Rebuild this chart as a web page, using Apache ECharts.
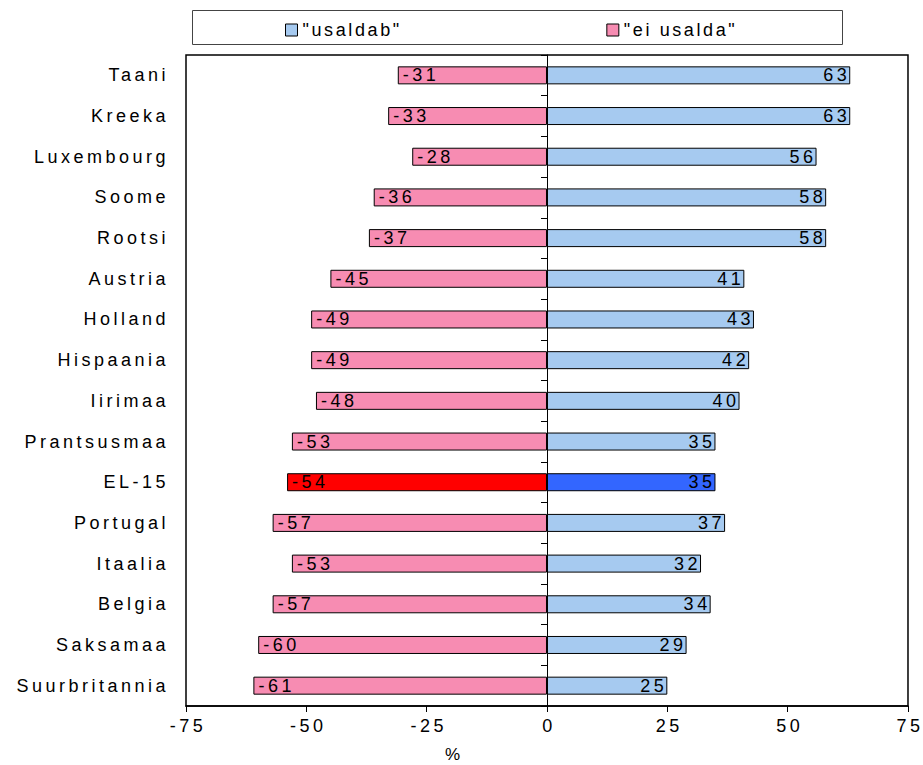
<!DOCTYPE html>
<html><head><meta charset="utf-8">
<script src="https://cdn.jsdelivr.net/npm/echarts@6/dist/echarts.min.js"></script>
<style>html,body{margin:0;padding:0;background:#fff}#c{width:923px;height:765px}
#c svg text{letter-spacing:3.5px}
#c svg text[style*="Liberation"],#c svg text[font-family*="Liberation"]{letter-spacing:2.6px}</style>
</head><body><div id="c"></div>
<script>
const categories = ['Taani','Kreeka','Luxembourg','Soome','Rootsi','Austria','Holland','Hispaania','Iirimaa','Prantsusmaa','EL-15','Portugal','Itaalia','Belgia','Saksamaa','Suurbritannia'];
const trust = [63,63,56,58,58,41,43,42,40,35,35,37,32,34,29,25];
const distrust = [-31,-33,-28,-36,-37,-45,-49,-49,-48,-53,-54,-57,-53,-57,-60,-61];
const seriesNames = ['"usaldab"','"ei usalda"'];
const xTicks = [-75,-50,-25,0,25,50,75];
const highlight = 'EL-15';

const FONT = 'Arial, sans-serif';
const LFONT = 'Liberation Sans';
const BLUE = '#A6CAF0', PINK = '#F78CB2', HBLUE = '#3366FF', HRED = '#FF0000';

function mk(vals, hl) {
  return vals.map((v, i) => categories[i] === highlight
    ? { value: v, itemStyle: { color: hl } } : v);
}

const chart = echarts.init(document.getElementById('c'), null, { renderer: 'svg' });
chart.setOption({
  animation: false,
  textStyle: { fontFamily: FONT },
  grid: { left: 186, right: 15, top: 55, bottom: 59, show: true, borderColor: '#000', borderWidth: 1.5 },
  legend: {
    left: 280, top: 16, itemGap: 228, itemWidth: 12, itemHeight: 12,
    textStyle: { fontFamily: LFONT, fontSize: 18, color: '#000' },
    data: [
      { name: seriesNames[0], icon: 'rect', itemStyle: { color: BLUE, borderColor: '#000', borderWidth: 1 } },
      { name: seriesNames[1], icon: 'rect', itemStyle: { color: PINK, borderColor: '#000', borderWidth: 1 } }
    ]
  },
  graphic: [
    { type: 'rect', left: 190, top: 8, shape: { width: 650, height: 34 }, style: { fill: 'none', stroke: '#444', lineWidth: 1 }, z: 0 },
    { type: 'text', left: 445, top: 746, style: { text: '%', font: '17px ' + FONT, fill: '#000' } }
  ],
  xAxis: {
    type: 'value', min: xTicks[0], max: xTicks[xTicks.length - 1], interval: 25,
    splitLine: { show: false },
    axisLine: { show: true, onZero: false, lineStyle: { color: '#000', width: 1.5 } },
    axisTick: { show: true, length: 6, lineStyle: { color: '#000' } },
    axisLabel: { fontFamily: FONT, fontSize: 18, color: '#000', margin: 11, padding: [0, 0, 0, 4] }
  },
  yAxis: [
    {
      type: 'category', data: categories, inverse: true,
      axisLine: { show: false, onZero: false }, axisTick: { show: false },
      axisLabel: { fontFamily: FONT, fontSize: 18, color: '#000', margin: 17 }
    },
    {
      type: 'category', data: categories, inverse: true, position: 'left',
      axisLine: { show: true, onZero: true, lineStyle: { color: '#000', width: 1 } },
      axisTick: { show: true, length: 6, lineStyle: { color: '#000' } },
      axisLabel: { show: false }
    }
  ],
  series: [
    {
      name: seriesNames[0], type: 'bar', stack: 's', barWidth: 18,
      data: mk(trust, HBLUE),
      itemStyle: { color: BLUE, borderColor: '#000', borderWidth: 1 },
      label: { show: true, position: 'insideRight', distance: 0, fontFamily: FONT, fontSize: 18, color: '#000' }
    },
    {
      name: seriesNames[1], type: 'bar', stack: 's', barWidth: 18,
      data: mk(distrust, HRED),
      itemStyle: { color: PINK, borderColor: '#000', borderWidth: 1 },
      label: { show: true, position: 'insideLeft', distance: 5, fontFamily: FONT, fontSize: 18, color: '#000' }
    }
  ]
});
</script></body></html>
